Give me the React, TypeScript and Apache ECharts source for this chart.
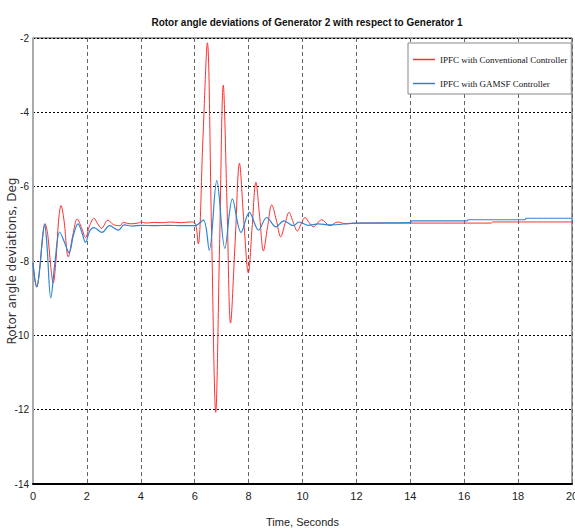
import React, { useEffect, useRef } from "react";
import * as echarts from "echarts";

const titleText = "Rotor angle deviations of Generator 2 with respect to Generator 1";
const xName = "Time, Seconds";
const yName = "Rotor angle deviations, Deg";
const seriesNames = ["IPFC with Conventional Controller", "IPFC with GAMSF Controller"];

const tRed = [0, 0.07, 0.14, 0.25, 0.35, 0.45, 0.55, 0.65, 0.75, 0.85, 0.95, 1.04, 1.15, 1.31, 1.48, 1.64, 1.8, 1.95, 2.1, 2.26, 2.4, 2.54, 2.78, 2.98, 3.23, 3.35, 3.6, 3.9, 4.0, 4.2, 4.5, 4.8, 5.1, 5.5, 5.8, 6.0, 6.13, 6.3, 6.47, 6.62, 6.78, 6.92, 7.06, 7.2, 7.33, 7.5, 7.66, 7.82, 7.99, 8.13, 8.27, 8.41, 8.55, 8.7, 8.86, 9.03, 9.19, 9.35, 9.5, 9.65, 9.81, 9.95, 10.09, 10.25, 10.4, 10.71, 11.02, 11.3, 11.6, 12.0, 17.0, 17.05, 20];
const vRed = [-8.05, -8.5, -8.7, -8.2, -7.4, -7.0, -7.3, -8.1, -8.59, -8.0, -6.9, -6.51, -6.9, -7.89, -7.3, -6.87, -7.1, -7.37, -7.05, -6.85, -7.0, -7.12, -6.9, -7.02, -7.05, -6.96, -7.0, -6.98, -6.95, -6.98, -6.96, -6.97, -6.95, -6.97, -6.95, -6.97, -7.54, -4.8, -2.13, -7.0, -12.07, -7.7, -3.27, -6.5, -9.67, -7.5, -5.37, -6.9, -8.32, -7.1, -5.88, -6.8, -7.73, -7.1, -6.49, -6.9, -7.35, -7.0, -6.69, -6.95, -7.19, -7.0, -6.83, -6.97, -7.08, -6.89, -7.05, -6.95, -7.0, -6.98, -6.98, -6.95, -6.95];

const tBlue = [0, 0.07, 0.14, 0.25, 0.35, 0.43, 0.52, 0.66, 0.82, 0.99, 1.17, 1.34, 1.5, 1.67, 1.8, 1.95, 2.1, 2.26, 2.56, 2.84, 3.17, 3.38, 3.7, 4.0, 4.5, 5.0, 5.5, 6.0, 6.32, 6.54, 6.82, 7.12, 7.4, 7.72, 8.03, 8.37, 8.67, 9.02, 9.31, 9.66, 9.87, 10.2, 10.6, 11.0, 12.0, 14.0, 14.05, 16.1, 16.15, 18.25, 18.3, 20];
const vBlue = [-8.05, -8.5, -8.7, -8.2, -7.4, -7.0, -7.6, -8.99, -8.0, -7.22, -7.5, -7.78, -7.3, -7.0, -7.2, -7.5, -7.2, -7.1, -7.23, -7.05, -7.17, -7.03, -7.06, -7.04, -7.05, -7.04, -7.05, -7.05, -6.9, -7.71, -5.84, -7.66, -6.33, -7.23, -6.69, -7.17, -6.83, -7.08, -6.92, -7.05, -6.95, -7.04, -7.0, -7.03, -6.98, -6.97, -6.92, -6.92, -6.89, -6.89, -6.85, -6.85];

const xMin = 0, xMax = 20, xStep = 2;
const yMin = -14, yMax = -2, yStep = 2;

const pairs = (t: number[], v: number[]) => t.map((x, i) => [x, v[i]]);

export default function App() {
  const ref = useRef<HTMLDivElement>(null);
  useEffect(() => {
    document.body.style.margin = "0";
    const chart = echarts.init(ref.current!, null, { renderer: "svg" });
    const narrow = "'Liberation Sans Narrow', 'Liberation Sans', Arial, sans-serif";
    chart.setOption({
      animation: false,
      backgroundColor: "#ffffff",
      title: {
        text: titleText,
        left: 302,
        textAlign: "center",
        top: 12,
        textStyle: { fontFamily: narrow, fontSize: 10, fontWeight: "bold", color: "#111" },
      },
      legend: {
        orient: "vertical",
        left: 408,
        top: 43,
        width: 166,
        icon: "rect",
        itemWidth: 22,
        itemHeight: 1.5,
        itemGap: 15,
        padding: [12, 4, 6, 5],
        backgroundColor: "#ffffff",
        borderColor: "#888",
        borderWidth: 1,
        borderRadius: 0,
        textStyle: { fontFamily: "'Liberation Serif', 'Times New Roman', serif", fontSize: 9, color: "#111" },
        data: seriesNames,
      },
      grid: {
        left: 33, right: 3, top: 38, bottom: 45,
        outerBoundsMode: "none",
        containLabel: false,
        show: true, borderColor: "#444", borderWidth: 1, backgroundColor: "transparent",
      },
      xAxis: {
        type: "value",
        min: xMin, max: xMax, interval: xStep,
        name: xName,
        nameLocation: "middle",
        nameGap: 32,
        nameMoveOverlap: false,
        nameTextStyle: { fontFamily: narrow, fontSize: 11, color: "#222" },
        axisLine: { show: true, onZero: false, lineStyle: { color: "#000", width: 2 } },
        axisTick: { show: false },
        axisLabel: { fontFamily: narrow, fontSize: 11, color: "#222", margin: 6 },
        splitLine: { show: true, lineStyle: { color: "#666", type: [4, 3], width: 1 } },
      },
      yAxis: {
        type: "value",
        min: yMin, max: yMax, interval: yStep,
        name: yName,
        nameLocation: "middle",
        nameGap: 15,
        nameMoveOverlap: false,
        nameTextStyle: { fontFamily: "'DejaVu Sans', sans-serif", fontSize: 12, color: "#333" },
        axisLine: { show: true, onZero: false, lineStyle: { color: "#aaa", width: 2 } },
        axisTick: { show: false },
        axisLabel: { fontFamily: narrow, fontSize: 10, color: "#222", margin: 4 },
        splitLine: { show: true, lineStyle: { color: "#000", type: [2, 2], width: 1 } },
      },
      series: [
        {
          name: seriesNames[0],
          type: "line",
          data: pairs(tRed, vRed),
          smooth: 0.35,
          symbol: "none",
          lineStyle: { color: "#ff3030", width: 1 },
          itemStyle: { color: "#ff3030" },
        },
        {
          name: seriesNames[1],
          type: "line",
          data: pairs(tBlue, vBlue),
          smooth: 0.35,
          symbol: "none",
          lineStyle: { color: "#2a86d4", width: 1.2 },
          itemStyle: { color: "#2a86d4" },
        },
      ],
    });
    return () => chart.dispose();
  }, []);
  return <div ref={ref} style={{ width: 575, height: 529 }} />;
}
